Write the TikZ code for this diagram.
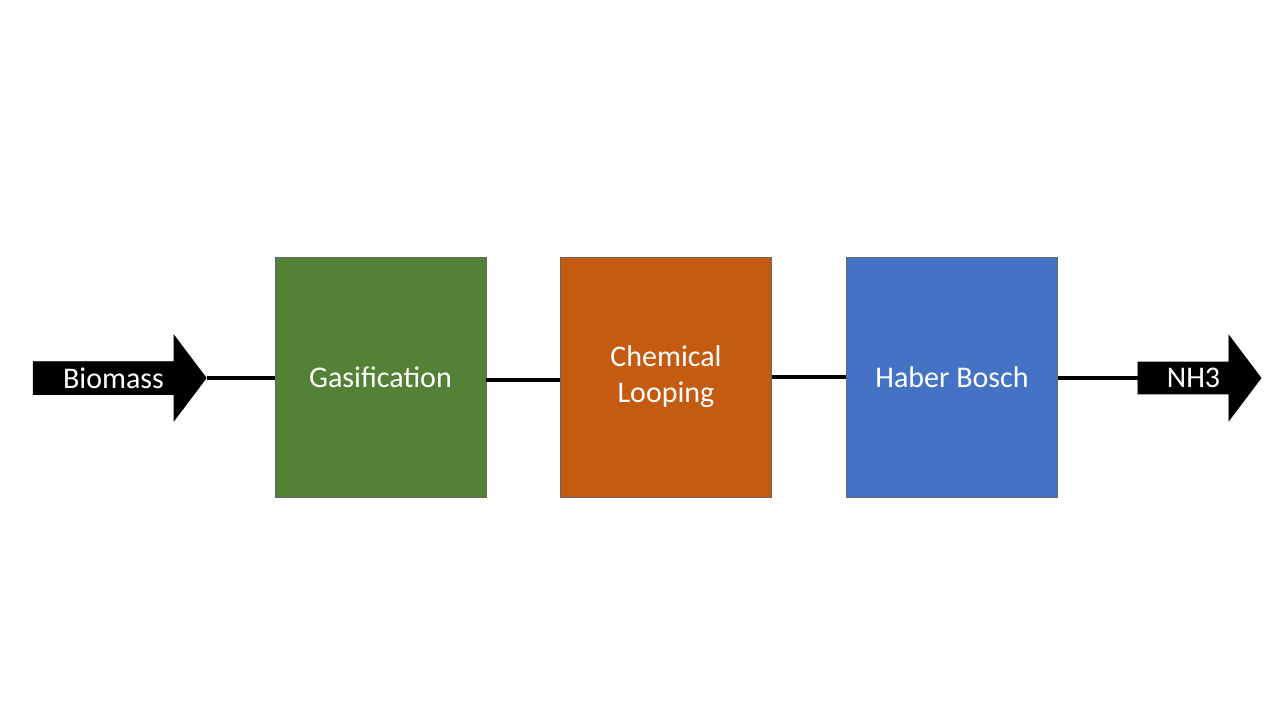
\documentclass[tikz,border=0pt]{standalone}
\usepackage{fontspec}
\setmainfont{Carlito}
\usetikzlibrary{shapes.arrows}
\definecolor{gas}{HTML}{538135}
\definecolor{chem}{HTML}{C55A11}
\definecolor{hab}{HTML}{4472C4}
\begin{document}
\begin{tikzpicture}[x=0.5pt,y=-0.5pt,
  blk/.style={draw=black!60,line width=0.4pt,minimum width=105.5pt,minimum height=120pt,inner sep=0pt,text=white,font=\fontsize{15}{18}\selectfont,align=center},
  arr/.style={single arrow,fill=black,draw=black,text=white,font=\fontsize{15}{18}\selectfont,single arrow head extend=10.25pt,single arrow tip angle=106,minimum width=42.5pt,inner sep=1pt},
  conn/.style={line width=1.6pt}]
\useasboundingbox (0,0) rectangle (1280,720);
\node[blk,fill=gas] (g) at (380.5,377) {Gasification};
\node[blk,fill=chem] (c) at (666,377) {Chemical\\Looping};
\node[blk,fill=hab] (h) at (952,377) {Haber Bosch};
\node[arr,minimum height=86.5pt] (b) at (113.5,378) {Biomass\hspace{10pt}};
\node[arr,minimum height=61.5pt] (n) at (1193.5,378) {NH3\hspace{6pt}};
\draw[conn] (b.tip) -- (g.west |- b.tip);
\draw[conn] ([yshift=-1.5pt]g.east) -- ([yshift=-1.5pt]c.west);
\draw[conn] (c.east) -- (h.west);
\draw[conn] (h.east |- n.tail) -- (n.tail);
\end{tikzpicture}
\end{document}
